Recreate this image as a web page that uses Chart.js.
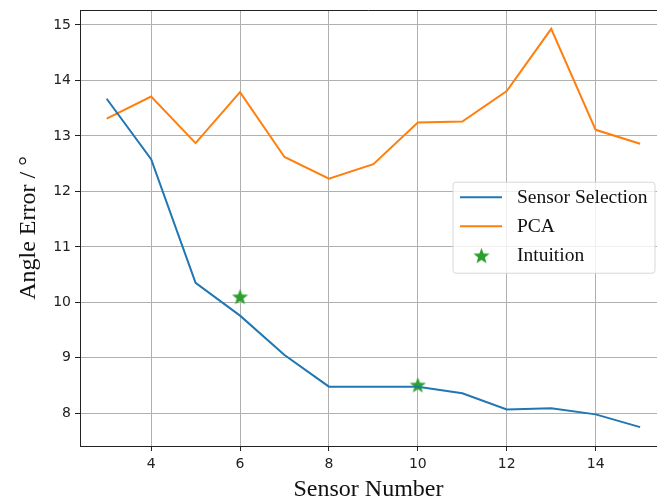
<!DOCTYPE html>
<html>
<head>
<meta charset="utf-8">
<script src="https://cdn.jsdelivr.net/npm/chart.js@4/dist/chart.umd.min.js"></script>
<style>
  html, body { margin: 0; padding: 0; background: #fff; overflow: hidden; }
  #wrap { width: 657px; height: 503px; overflow: hidden; }
</style>
</head>
<body>
<div id="wrap"><canvas id="chart" width="666" height="503"></canvas></div>
<script>
const sensors = [3, 4, 5, 6, 7, 8, 9, 10, 11, 12, 13, 14, 15];
const selection = [13.67, 12.58, 10.35, 9.76, 9.05, 8.48, 8.48, 8.48, 8.36, 8.07, 8.09, 7.98, 7.75];
const pca = [13.31, 13.71, 12.87, 13.79, 12.62, 12.23, 12.49, 13.24, 13.26, 13.81, 14.93, 13.11, 12.86];
const intuitionX = [6, 10];
const intuitionY = [10.10, 8.51];
const xTicks = [4, 6, 8, 10, 12, 14];
const yTicks = [8, 9, 10, 11, 12, 13, 14, 15];

// filled star like matplotlib's '*' marker
function starCanvas(size, color) {
  const c = document.createElement("canvas");
  c.width = size; c.height = size;
  const g = c.getContext("2d");
  const cx = size / 2, cy = size / 2 + size * 0.04, R = size / 2, r = R * 0.42;
  g.beginPath();
  for (let i = 0; i < 10; i++) {
    const rad = i % 2 === 0 ? R : r;
    const a = -Math.PI / 2 + i * Math.PI / 5;
    g.lineTo(cx + rad * Math.cos(a), cy + rad * Math.sin(a));
  }
  g.closePath();
  g.fillStyle = color;
  g.fill();
  return c;
}
const star = starCanvas(17, "#2ca02c");

const pts = (xs, ys) => xs.map((x, i) => ({ x: x, y: ys[i] }));

const frame = {
  id: "frame",
  afterDraw(chart) {
    const { ctx, chartArea: a } = chart;
    ctx.save();
    ctx.strokeStyle = "#222";
    ctx.lineWidth = 1;
    ctx.beginPath();
    ctx.moveTo(a.left, a.top + 0.5);
    ctx.lineTo(a.right, a.top + 0.5);
    ctx.stroke();

    // legend box inside plot, right side (visible right edge is 657)
    const w = 202, h = 91;
    const x0 = 657 - w - 2, y0 = a.top + (a.bottom - a.top) * 0.395;
    ctx.fillStyle = "rgba(255,255,255,0.8)";
    ctx.strokeStyle = "#d8d8d8";
    ctx.beginPath();
    ctx.roundRect(x0, y0, w, h, 3);
    ctx.fill();
    ctx.stroke();
    ctx.font = "19.5px 'Liberation Serif', 'Times New Roman', serif";
    ctx.textBaseline = "middle";
    chart.data.datasets.forEach((ds, i) => {
      const yy = y0 + 15 + i * 29;
      if (ds.showLine === false) {
        ctx.drawImage(star, x0 + 20, yy - 8);
      } else {
        ctx.strokeStyle = ds.borderColor;
        ctx.lineWidth = 2;
        ctx.beginPath();
        ctx.moveTo(x0 + 7, yy);
        ctx.lineTo(x0 + 49, yy);
        ctx.stroke();
      }
      ctx.fillStyle = "#111";
      ctx.fillText(ds.label, x0 + 64, yy + 1);
    });
    ctx.restore();
  }
};

new Chart(document.getElementById("chart"), {
  type: "line",
  data: {
    datasets: [
      { label: "Sensor Selection", data: pts(sensors, selection), borderColor: "#1f77b4", borderWidth: 2, pointRadius: 0, tension: 0 },
      { label: "PCA", data: pts(sensors, pca), borderColor: "#ff7f0e", borderWidth: 2, pointRadius: 0, tension: 0 },
      { label: "Intuition", data: pts(intuitionX, intuitionY), showLine: false, pointStyle: star, pointRadius: 8, backgroundColor: "#2ca02c", borderColor: "#2ca02c" }
    ]
  },
  plugins: [frame],
  options: {
    responsive: false,
    animation: false,
    layout: { padding: { top: 10, right: 0, left: 0, bottom: 0 } },
    plugins: { legend: { display: false }, tooltip: { enabled: false } },
    scales: {
      x: {
        type: "linear",
        min: 2.4, max: 15.38,
        afterBuildTicks: ax => { ax.ticks = xTicks.map(v => ({ value: v })); },
        afterFit: ax => { ax.height = 57; },
        grid: { color: "#b0b0b0", lineWidth: 1, tickLength: 5, tickColor: "#222" },
        border: { color: "#222", width: 1 },
        ticks: { color: "#222", font: { family: "DejaVu Sans", size: 14 }, padding: 5, maxRotation: 0 },
        title: { display: true, text: "Sensor Number", color: "#111", font: { family: "Liberation Serif", size: 24 }, padding: { top: 4, bottom: -1 } }
      },
      y: {
        min: 7.41, max: 15.27,
        afterBuildTicks: ax => { ax.ticks = yTicks.map(v => ({ value: v })); },
        afterFit: ax => { ax.width = 80; ax.paddingTop = 0; ax.paddingBottom = 0; },
        grid: { color: "#b0b0b0", lineWidth: 1, tickLength: 5, tickColor: "#222" },
        border: { color: "#222", width: 1 },
        ticks: { color: "#222", font: { family: "DejaVu Sans", size: 14 }, padding: 4 },
        title: { display: true, text: "Angle Error / °", color: "#111", font: { family: "Liberation Serif", size: 24 }, padding: { top: 14, bottom: 4 } }
      }
    }
  }
});
</script>
</body>
</html>
